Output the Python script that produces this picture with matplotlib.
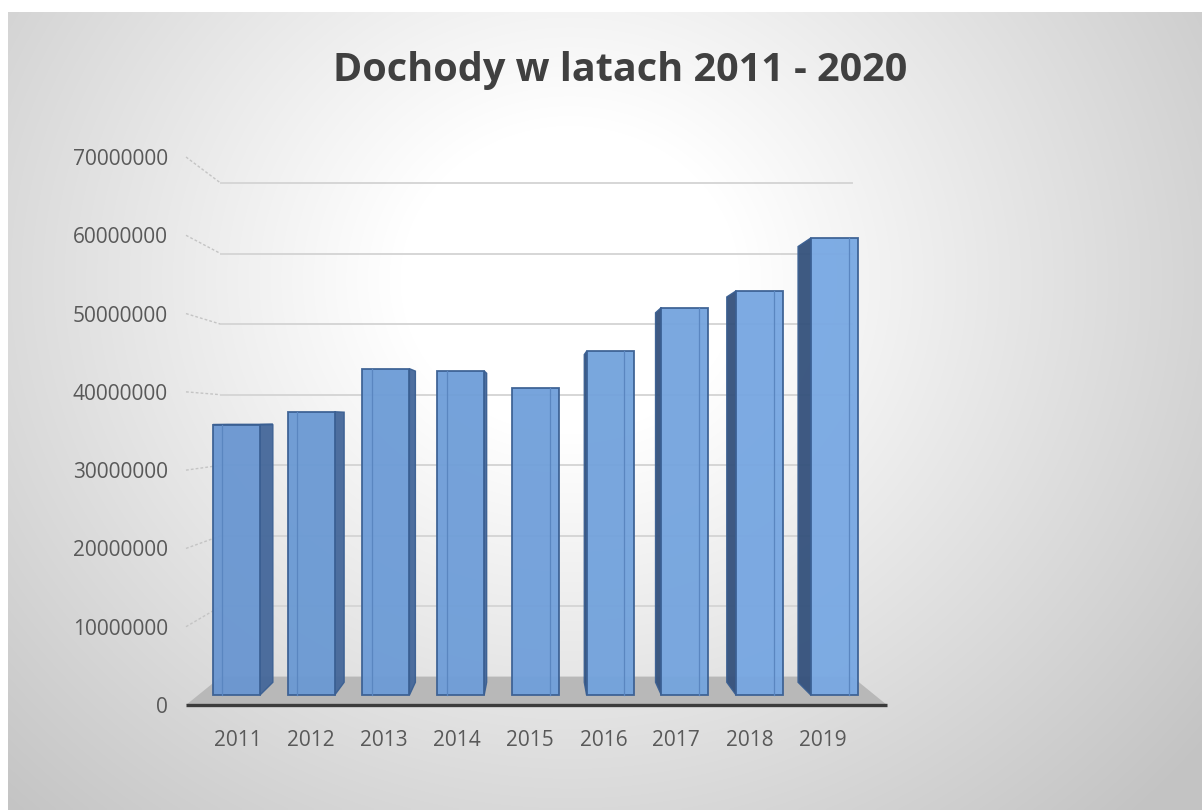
import matplotlib
matplotlib.use("Agg")
import matplotlib.pyplot as plt
import numpy as np
from matplotlib.patches import Polygon

# --- data ---
years = ["2011", "2012", "2013", "2014", "2015", "2016", "2017", "2018", "2019"]
income = [35.8e6, 37.5e6, 43.2e6, 42.9e6, 40.6e6, 45.5e6, 51.3e6, 53.5e6, 60.5e6]
y_ticks = [0, 10e6, 20e6, 30e6, 40e6, 50e6, 60e6, 70e6]
title = "Dochody w latach 2011 - 2020"

# --- fake 3D perspective (front plane = data coords) ---
X_LEFT, X_RIGHT = -0.44, 8.61
VX, VY = 4.09, 36.3e6          # vanishing point
SHRINK = 0.10                  # scale loss at back wall
Z0, Z1 = 0.35, 0.80            # bar depth
BAR_W = 0.63
BAR_SHIFT = 0.07

TEXT = "#595959"
plt.rcParams["font.family"] = ["Open Sans", "DejaVu Sans"]


def proj(x, v, z):
    s = 1 - SHRINK * z
    return VX + (x - VX) * s, VY + (v - VY) * s


W, H = 1202, 810
fig = plt.figure(figsize=(W / 100, H / 100), dpi=100)
fig.patch.set_facecolor("white")

# background radial gradient
bg = fig.add_axes([8 / W, 0, 1 - 8 / W, (H - 12) / H])
xx, yy = np.meshgrid(np.arange(8, W), np.arange(12, H))
r = np.hypot(xx - 570, (yy - 280) * 1.1)
g = 255 - 60 * np.clip((r - 170) / 650, 0, 1)
bg.imshow(np.dstack([g, g, g]).astype(np.uint8), aspect="auto",
          extent=(8, W, H, 12), interpolation="bilinear")
bg.axis("off")

ax = fig.add_axes([186 / W, (H - 705) / H, (887 - 186) / W, (705 - 157) / H])
ax.set_facecolor("none")
ax.set_xlim(X_LEFT, X_RIGHT)
ax.set_ylim(0, 70e6)
for sp in ax.spines.values():
    sp.set_visible(False)

# gridlines: left wall + back wall
for v in y_ticks[1:]:
    bx0, by0 = proj(X_LEFT, v, 1)
    bx1, by1 = proj(X_RIGHT, v, 1)
    ax.plot([X_LEFT, bx0], [v, by0], color="#c4c4c4", lw=1.0,
            ls=(0, (2, 1.5)), zorder=1, clip_on=False)
    ax.plot([bx0, bx1], [by0, by1], color="#d6d6d6", lw=1.4, zorder=1,
            clip_on=False)

# floor
floor = [proj(X_LEFT, 0, 0), proj(X_RIGHT, 0, 0),
         proj(X_RIGHT, 0, 1), proj(X_LEFT, 0, 1)]
ax.add_patch(Polygon(floor, closed=True, facecolor="#b8b8b8",
                     edgecolor="none", zorder=2, clip_on=False))
ax.plot([X_LEFT, X_RIGHT], [0, 0], color="#3c3c3c", lw=2.4, zorder=3,
        solid_capstyle="butt", clip_on=False)

# bars
n = len(years)
for i, val in enumerate(income):
    c = i + BAR_SHIFT
    x0, x1 = c - BAR_W / 2, c + BAR_W / 2
    t = i / (n - 1)
    front_c = (0.41 + 0.06 * t, 0.59 + 0.07 * t, 0.82 + 0.07 * t)
    edge_c = "#3a5f92"
    if x1 < VX:
        side = [proj(x1, 0, Z0), proj(x1, val, Z0),
                proj(x1, val, Z1), proj(x1, 0, Z1)]
        ax.add_patch(Polygon(side, closed=True, facecolor="#44679a",
                             edgecolor=edge_c, lw=1.0, alpha=0.95, zorder=4))
    elif x0 > VX:
        side = [proj(x0, 0, Z0), proj(x0, val, Z0),
                proj(x0, val, Z1), proj(x0, 0, Z1)]
        ax.add_patch(Polygon(side, closed=True, facecolor="#34517c",
                             edgecolor=edge_c, lw=1.0, alpha=0.95, zorder=4))
    if val < VY:
        top = [proj(x0, val, Z0), proj(x1, val, Z0),
               proj(x1, val, Z1), proj(x0, val, Z1)]
        ax.add_patch(Polygon(top, closed=True, facecolor="#8fb5e6",
                             edgecolor=edge_c, lw=1.0, zorder=4))
    front = [proj(x0, 0, Z0), proj(x1, 0, Z0),
             proj(x1, val, Z0), proj(x0, val, Z0)]
    ax.add_patch(Polygon(front, closed=True, facecolor=front_c,
                         edgecolor=edge_c, lw=1.3, alpha=0.95, zorder=5))
    # bevel line inside front face
    bx = x0 + BAR_W * (0.2 if x1 < VX else 0.8)
    lx0, ly0 = proj(bx, 0, Z0)
    lx1, ly1 = proj(bx, val, Z0)
    ax.plot([lx0, lx1], [ly0, ly1], color="#5a86c0", lw=0.9, zorder=6)

# ticks
ax.set_yticks(y_ticks)
ax.set_yticklabels([f"{int(v)}" for v in y_ticks])
zmid = (Z0 + Z1) / 2
ax.set_xticks([proj(i, 0, zmid)[0] for i in range(n)])
ax.set_xticklabels(years)
ax.tick_params(axis="y", length=0, pad=13, labelsize=15, labelcolor=TEXT)
ax.tick_params(axis="x", length=0, pad=18, labelsize=15, labelcolor=TEXT)

fig.text(620 / W, 1 - 70 / H, title, ha="center", va="center",
         fontsize=28.5, fontweight="bold", color="#404040")

fig.savefig("out.png", dpi=100)
